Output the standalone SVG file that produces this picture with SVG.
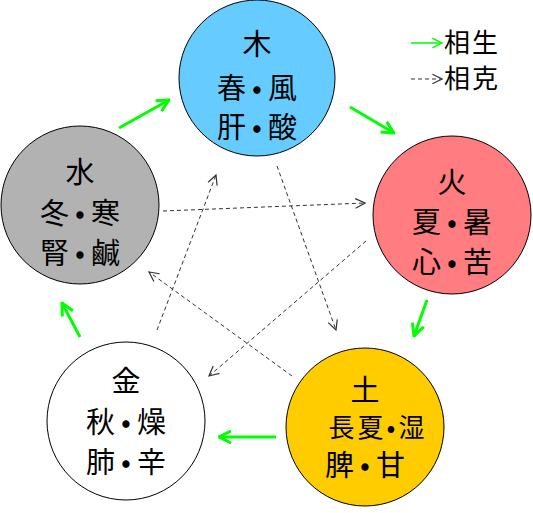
<svg xmlns="http://www.w3.org/2000/svg" width="533" height="513" viewBox="0 0 533 513">
<style>
.c{stroke:#000;stroke-width:1}
.t{font-family:"Noto Sans CJK JP","Noto Sans CJK SC",sans-serif;font-size:29px;fill:#000;text-anchor:middle;letter-spacing:6px}
.s{font-size:26px;letter-spacing:3px}
.g{stroke:#00FF00;stroke-width:3;fill:none;marker-end:url(#ga)}
.d{stroke:#333;stroke-width:1;stroke-dasharray:4 3;fill:none;marker-end:url(#da)}
.l{font-family:"Noto Sans CJK JP","Noto Sans CJK SC",sans-serif;font-size:26px;letter-spacing:2px;fill:#000}
</style>
<defs>
<marker id="ga" viewBox="0 0 10 10" refX="9" refY="5" markerWidth="5" markerHeight="5" orient="auto" markerUnits="strokeWidth">
<path d="M1,1 L9,5 L1,9" fill="none" stroke="#00FF00" stroke-width="2"/>
</marker>
<marker id="gl" viewBox="0 0 10 10" refX="9" refY="5" markerWidth="8" markerHeight="8" orient="auto" markerUnits="strokeWidth">
<path d="M1,1 L9,5 L1,9" fill="none" stroke="#00FF00" stroke-width="1.2"/>
</marker>
<marker id="da" viewBox="0 0 10 10" refX="9" refY="5" markerWidth="12" markerHeight="12" orient="auto" markerUnits="strokeWidth">
<path d="M1,1 L9,5 L1,9" fill="none" stroke="#333" stroke-width="1"/>
</marker>
</defs>
<g id="connectors">
<line class="g" x1="119" y1="128" x2="169" y2="100"/>
<line class="g" x1="350" y1="107" x2="394" y2="133"/>
<line class="g" x1="427" y1="300" x2="414" y2="336"/>
<line class="g" x1="276" y1="437" x2="219" y2="437"/>
<line class="g" x1="80" y1="337" x2="62" y2="303"/>
<line class="d" x1="163" y1="211" x2="365" y2="203"/>
<line class="d" x1="366" y1="241" x2="209" y2="376"/>
<line class="d" x1="157" y1="330" x2="216" y2="175"/>
<line class="d" x1="277" y1="166" x2="336" y2="330"/>
<line class="d" x1="292" y1="376" x2="149" y2="272"/>
</g>
<g id="wood">
<circle class="c" cx="257" cy="78" r="78" fill="#66CCFF"/>
<text class="t" x="260" y="55">木</text>
<text class="t" x="260" y="99">春•風</text>
<text class="t" x="260" y="138">肝•酸</text>
</g>
<g id="fire">
<circle class="c" cx="452" cy="215" r="79" fill="#FF7C80"/>
<text class="t" x="455" y="193">火</text>
<text class="t" x="455" y="233">夏•暑</text>
<text class="t" x="455" y="273">心•苦</text>
</g>
<g id="earth">
<circle class="c" cx="365" cy="427" r="79" fill="#FFCC00"/>
<text class="t" x="368" y="401">土</text>
<text class="t s" x="378" y="437">長夏•湿</text>
<text class="t" x="368" y="476">脾•甘</text>
</g>
<g id="metal">
<circle class="c" cx="126" cy="421" r="79" fill="#FFFFFF"/>
<text class="t" x="129" y="392">金</text>
<text class="t" x="129" y="433">秋•燥</text>
<text class="t" x="129" y="473">肺•辛</text>
</g>
<g id="water">
<circle class="c" cx="80" cy="205" r="79" fill="#B2B2B2"/>
<text class="t" x="83" y="183">水</text>
<text class="t" x="83" y="224">冬•寒</text>
<text class="t" x="83" y="264">腎•鹹</text>
</g>
<g id="legend">
<line x1="411" y1="43" x2="442" y2="43" stroke="#00FF00" stroke-width="1.5" marker-end="url(#gl)"/>
<text class="l" x="444" y="52">相生</text>
<line class="d" x1="411" y1="79" x2="442" y2="79"/>
<text class="l" x="444" y="88">相克</text>
</g>
</svg>
